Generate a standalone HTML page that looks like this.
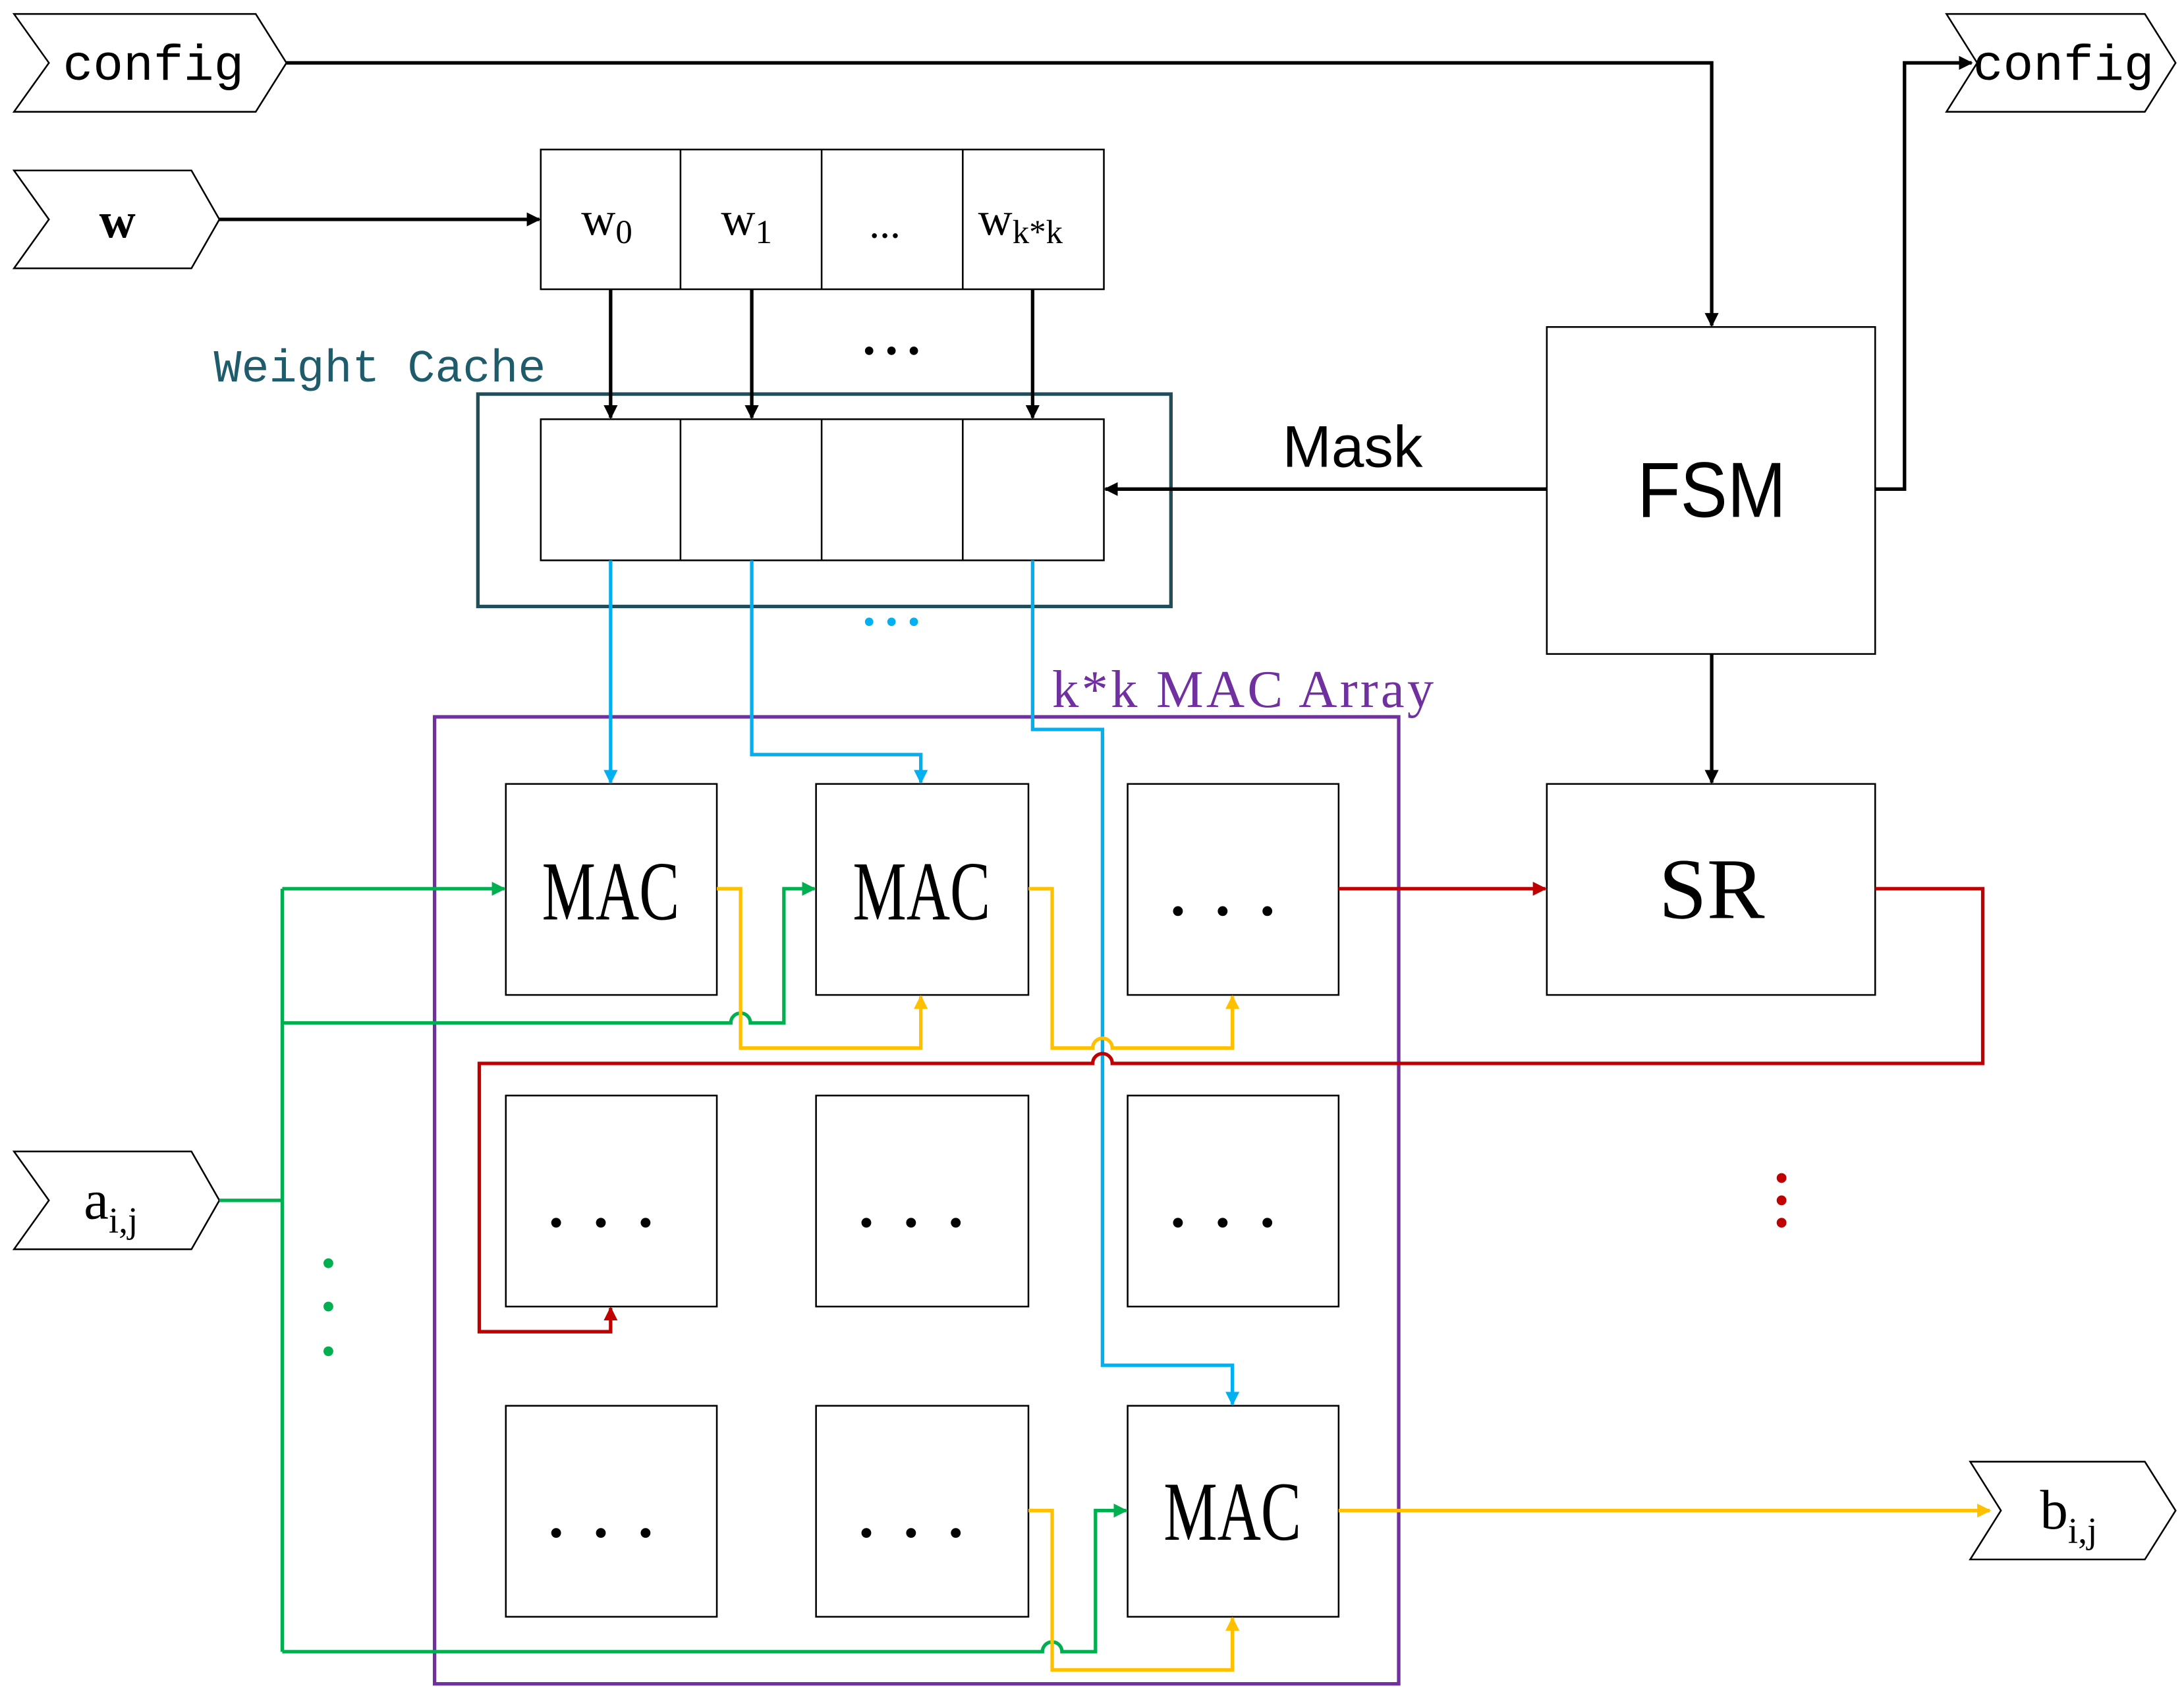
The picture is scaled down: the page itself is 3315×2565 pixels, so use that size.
<!DOCTYPE html>
<html><head><meta charset="utf-8"><style>html,body{margin:0;padding:0;background:#fff}svg{display:block}</style></head><body>
<svg width="3315" height="2565" viewBox="0 0 1563 1209.4" xmlns="http://www.w3.org/2000/svg">
<defs>
<marker id="ak" markerWidth="10" markerHeight="10" refX="9" refY="5" orient="auto" markerUnits="userSpaceOnUse"><path d="M0,0 L10,5 L0,10 Z" fill="#000"/></marker>
<marker id="ab" markerWidth="10" markerHeight="10" refX="9" refY="5" orient="auto" markerUnits="userSpaceOnUse"><path d="M0,0 L10,5 L0,10 Z" fill="#00b0f0"/></marker>
<marker id="ag" markerWidth="10" markerHeight="10" refX="9" refY="5" orient="auto" markerUnits="userSpaceOnUse"><path d="M0,0 L10,5 L0,10 Z" fill="#00b050"/></marker>
<marker id="ay" markerWidth="10" markerHeight="10" refX="9" refY="5" orient="auto" markerUnits="userSpaceOnUse"><path d="M0,0 L10,5 L0,10 Z" fill="#ffc000"/></marker>
<marker id="ar" markerWidth="10" markerHeight="10" refX="9" refY="5" orient="auto" markerUnits="userSpaceOnUse"><path d="M0,0 L10,5 L0,10 Z" fill="#c00000"/></marker>
</defs>
<g fill="#fff" stroke="#000" stroke-width="1.2">
<polygon points="10,10 183,10 205,45 183,80 10,80 35,45"/>
<polygon points="10,122 137,122 157,157 137,192 10,192 35,157"/>
<polygon points="10,824 137,824 157,859 137,894 10,894 35,859"/>
<polygon points="1393,10 1535,10 1557,45 1535,80 1393,80 1415,45"/>
<polygon points="1410,1046 1535,1046 1557,1081 1535,1116 1410,1116 1432,1081"/>
<rect x="387" y="107" width="403" height="100"/>
<line x1="487" y1="107" x2="487" y2="207"/><line x1="588" y1="107" x2="588" y2="207"/><line x1="689" y1="107" x2="689" y2="207"/>
<rect x="387" y="300" width="403" height="101"/>
<line x1="487" y1="300" x2="487" y2="401"/><line x1="588" y1="300" x2="588" y2="401"/><line x1="689" y1="300" x2="689" y2="401"/>
<rect x="1107" y="234" width="235" height="234"/>
<rect x="1107" y="561" width="235" height="151"/>
<rect x="362" y="561" width="151" height="151"/><rect x="584" y="561" width="152" height="151"/><rect x="807" y="561" width="151" height="151"/>
<rect x="362" y="784" width="151" height="151"/><rect x="584" y="784" width="152" height="151"/><rect x="807" y="784" width="151" height="151"/>
<rect x="362" y="1006" width="151" height="151"/><rect x="584" y="1006" width="152" height="151"/><rect x="807" y="1006" width="151" height="151"/>
</g>
<rect x="342" y="282" width="496" height="152" fill="none" stroke="#1f4e5a" stroke-width="2.5"/>
<rect x="311" y="513" width="690" height="692" fill="none" stroke="#7030a0" stroke-width="2.5"/>
<g fill="none" stroke="#000" stroke-width="2.5">
<path d="M205,45 H1225 V233" marker-end="url(#ak)"/>
<path d="M157,157 H386" marker-end="url(#ak)"/>
<path d="M437,207 V299" marker-end="url(#ak)"/>
<path d="M538,207 V299" marker-end="url(#ak)"/>
<path d="M739,207 V299" marker-end="url(#ak)"/>
<path d="M1107,350 H791" marker-end="url(#ak)"/>
<path d="M1342,350 H1363 V45 H1411" marker-end="url(#ak)"/>
<path d="M1225,468 V560" marker-end="url(#ak)"/>
</g>
<g fill="none" stroke="#00b0f0" stroke-width="2.5">
<path d="M437,401 V560" marker-end="url(#ab)"/>
<path d="M538,401 V540 H659 V560" marker-end="url(#ab)"/>
<path d="M739,401 V522 H789 V977 H882 V1005" marker-end="url(#ab)"/>
</g>
<g fill="none" stroke="#00b050" stroke-width="2.5">
<path d="M157,859 H202"/>
<path d="M202,636 V1182"/>
<path d="M202,636 H361" marker-end="url(#ag)"/>
<path d="M202,732 H523 A7,7 0 0 1 537,732 H561 V636 H583" marker-end="url(#ag)"/>
<path d="M202,1182 H746 A7,7 0 0 1 760,1182 H784 V1081 H806" marker-end="url(#ag)"/>
</g>
<g fill="none" stroke="#ffc000" stroke-width="2.5">
<path d="M513,636 H530 V750 H659 V713" marker-end="url(#ay)"/>
<path d="M736,636 H753 V750 H782 A7,7 0 0 1 796,750 H882 V713" marker-end="url(#ay)"/>
<path d="M736,1081 H753 V1195 H882 V1158" marker-end="url(#ay)"/>
<path d="M958,1081 H1424" marker-end="url(#ay)"/>
</g>
<g fill="none" stroke="#c00000" stroke-width="2.5">
<path d="M958,636 H1106" marker-end="url(#ar)"/>
<path d="M1342,636 H1419 V761 H796 A7,7 0 0 0 782,761 H343 V953 H437 V936" marker-end="url(#ar)"/>
</g>
<g fill="#00b050"><circle cx="235" cy="904" r="3.5"/><circle cx="235" cy="935" r="3.5"/><circle cx="235" cy="967" r="3.5"/></g>
<g fill="#c00000"><circle cx="1275" cy="843" r="3.5"/><circle cx="1275" cy="859" r="3.5"/><circle cx="1275" cy="875" r="3.5"/></g>
<g fill="#000"><circle cx="622" cy="251" r="3"/><circle cx="638" cy="251" r="3"/><circle cx="654" cy="251" r="3"/></g>
<g fill="#00b0f0"><circle cx="622" cy="445" r="3"/><circle cx="638" cy="445" r="3"/><circle cx="654" cy="445" r="3"/></g>
<g font-family="Liberation Mono, monospace" font-size="36">
<text x="45" y="57">config</text>
<text x="1412" y="57">config</text>
<text x="153" y="273" fill="#1f5c6b" font-size="33">Weight Cache</text>
</g>
<g font-family="Liberation Serif, serif">
<text x="71" y="170" font-size="36" font-weight="bold">w</text>
<text x="416" y="168" font-size="34">w<tspan font-size="24" dy="6">0</tspan></text>
<text x="516" y="168" font-size="34">w<tspan font-size="24" dy="6">1</tspan></text>
<text x="622" y="170" font-size="30">...</text>
<text x="700" y="168" font-size="34">w<tspan font-size="24" dy="6">k*k</tspan></text>
<text x="753" y="506" font-size="38" fill="#7030a0" letter-spacing="2">k*k MAC Array</text>
<text x="60" y="872" font-size="40">a<tspan font-size="26" dy="10">i,j</tspan></text>
<text x="1460" y="1094" font-size="40">b<tspan font-size="26" dy="10">i,j</tspan></text>
<g font-size="60" text-anchor="middle" transform="scale(0.72,1)">
<text x="607" y="658">MAC</text><text x="916" y="658">MAC</text><text x="1225" y="1102">MAC</text>
</g>
<text x="1225" y="657" font-size="62" text-anchor="middle">SR</text>
</g>
<text x="1225" y="370" font-family="Liberation Sans, sans-serif" font-size="56" text-anchor="middle" transform="translate(1225,0) scale(0.9,1) translate(-1225,0)">FSM</text>
<text x="968" y="334" font-family="Liberation Sans, sans-serif" font-size="42" text-anchor="middle">Mask</text>
<g fill="#000">
<circle cx="843" cy="652" r="3.5"/><circle cx="875" cy="652" r="3.5"/><circle cx="907" cy="652" r="3.5"/>
<circle cx="398" cy="875" r="3.5"/><circle cx="430" cy="875" r="3.5"/><circle cx="462" cy="875" r="3.5"/>
<circle cx="620" cy="875" r="3.5"/><circle cx="652" cy="875" r="3.5"/><circle cx="684" cy="875" r="3.5"/>
<circle cx="843" cy="875" r="3.5"/><circle cx="875" cy="875" r="3.5"/><circle cx="907" cy="875" r="3.5"/>
<circle cx="398" cy="1097" r="3.5"/><circle cx="430" cy="1097" r="3.5"/><circle cx="462" cy="1097" r="3.5"/>
<circle cx="620" cy="1097" r="3.5"/><circle cx="652" cy="1097" r="3.5"/><circle cx="684" cy="1097" r="3.5"/>
</g>
</svg>
</body></html>
